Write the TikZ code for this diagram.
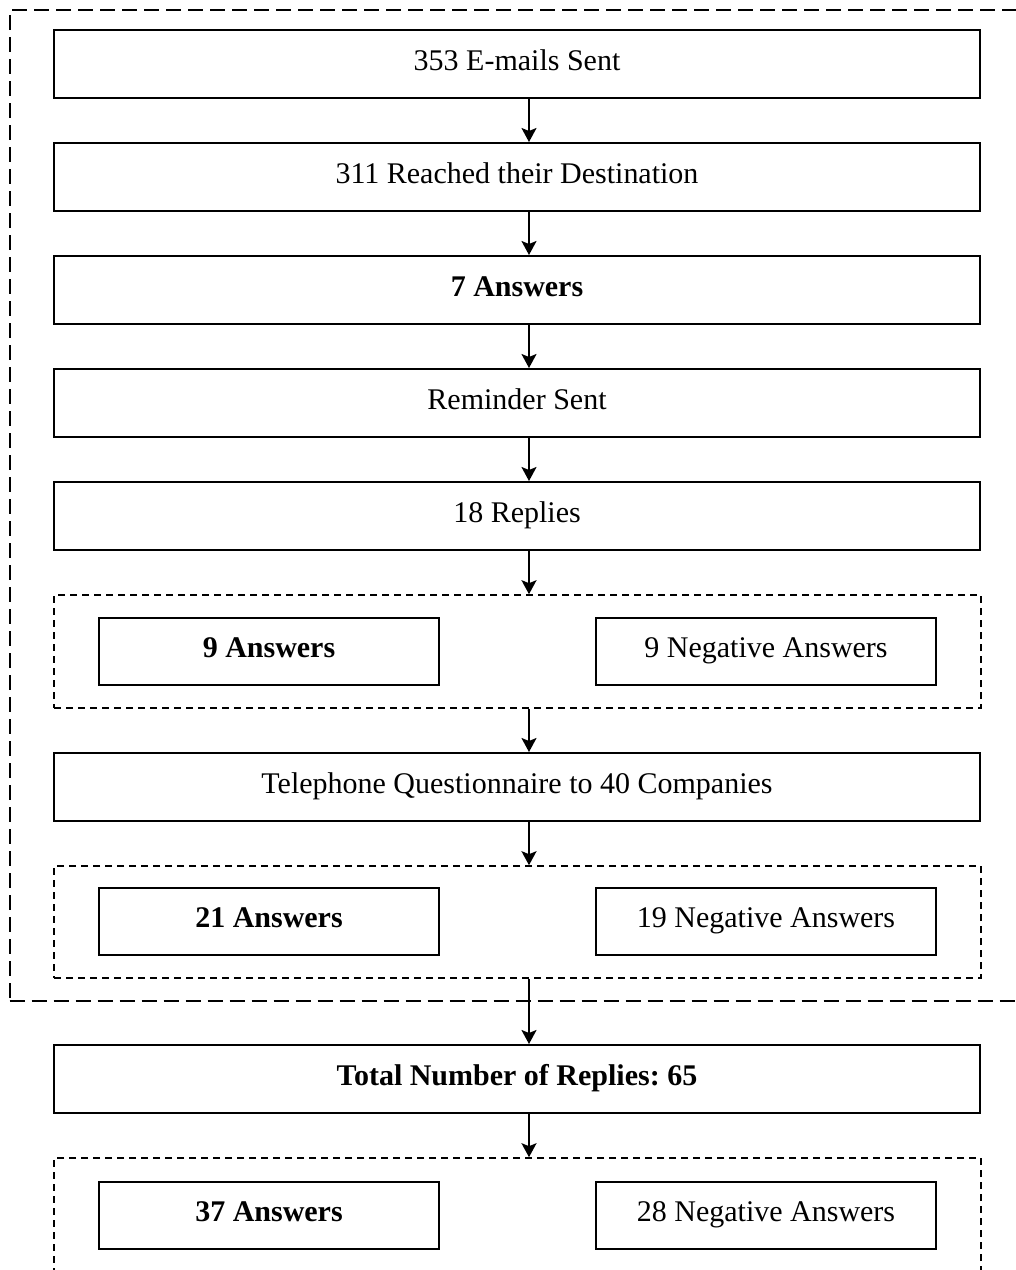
\documentclass[tikz,border=0pt]{standalone}
\usepackage{fontspec}
\setmainfont{Liberation Serif}
\usetikzlibrary{arrows.meta}
\frenchspacing
\begin{document}
\begin{tikzpicture}[x=1pt,y=-1pt,
  stagebox/.style={draw, line width=2pt, inner sep=0pt, minimum height=68pt,
    text height=22pt, text depth=10pt, font=\fontsize{30pt}{36pt}\selectfont},
  widebox/.style={stagebox, minimum width=926pt},
  halfbox/.style={stagebox, minimum width=340pt, minimum height=67pt},
  groupbox/.style={draw, line width=1.6pt, dash pattern=on 7pt off 5pt, inner sep=0pt},
  outerbox/.style={draw, line width=2pt, dash pattern=on 15pt off 7pt, inner sep=0pt},
  arr/.style={line width=2pt, -{Stealth[length=14pt,width=15pt,inset=3pt]}}]
\clip (0,0) rectangle (1016,1270);

% outer dashed frame around the survey stages
\node[outerbox, minimum width=1031pt, minimum height=991pt] (outer) at (525,505.5) {};

% main stages
\node[widebox] (sent) at (517,64) {353 E-mails Sent};
\node[widebox] (reached) at (517,177) {311 Reached their Destination};
\node[widebox] (ans7) at (517,290) {\textbf{7 Answers}};
\node[widebox] (remind) at (517,403) {Reminder Sent};
\node[widebox] (rep18) at (517,516) {18 Replies};

% first split
\node[groupbox, minimum width=927pt, minimum height=113pt] (split1) at (517.5,651.5) {};
\node[halfbox] (ans9) at (269,651.5) {\textbf{9 Answers}};
\node[halfbox] (neg9) at (766,651.5) {9 Negative Answers};

\node[widebox] (phone) at (517,787) {Telephone Questionnaire to 40 Companies};

% second split
\node[groupbox, minimum width=927pt, minimum height=112pt] (split2) at (517.5,922) {};
\node[halfbox] (ans21) at (269,921.5) {\textbf{21 Answers}};
\node[halfbox] (neg19) at (766,921.5) {19 Negative Answers};

\node[widebox] (total) at (517,1079) {\textbf{Total Number of Replies: 65}};

% final split
\node[groupbox, minimum width=927pt, minimum height=160pt] (split3) at (517.5,1238) {};
\node[halfbox] (ans37) at (269,1215) {\textbf{37 Answers}};
\node[halfbox] (neg28) at (766,1215) {28 Negative Answers};

% connectors
\draw[arr] ([xshift=12pt]sent.south) -- ([xshift=12pt]reached.north);
\draw[arr] ([xshift=12pt]reached.south) -- ([xshift=12pt]ans7.north);
\draw[arr] ([xshift=12pt]ans7.south) -- ([xshift=12pt]remind.north);
\draw[arr] ([xshift=12pt]remind.south) -- ([xshift=12pt]rep18.north);
\draw[arr] ([xshift=12pt]rep18.south) -- ([xshift=11.5pt]split1.north);
\draw[arr] ([xshift=11.5pt]split1.south) -- ([xshift=12pt]phone.north);
\draw[arr] ([xshift=12pt]phone.south) -- ([xshift=11.5pt]split2.north);
\draw[arr] ([xshift=11.5pt]split2.south) -- ([xshift=12pt]total.north);
\draw[arr] ([xshift=12pt]total.south) -- ([xshift=11.5pt]split3.north);
\end{tikzpicture}
\end{document}
